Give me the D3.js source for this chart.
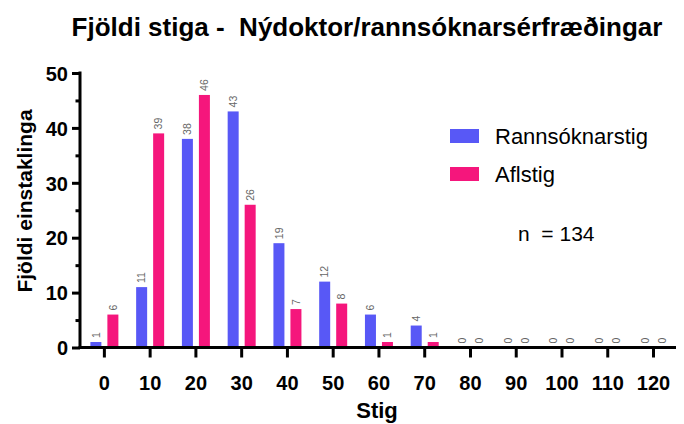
<!DOCTYPE html>
<html><head><meta charset="utf-8">
<script src="https://cdn.jsdelivr.net/npm/d3@7"></script>
<style>body{margin:0;background:#fff}svg{display:block}text{white-space:pre}</style>
</head><body>
<script>
const categories = [0,10,20,30,40,50,60,70,80,90,100,110,120];
const seriesNames = ["Rannsóknarstig","Aflstig"];
const rannsoknarstig = [1,11,38,43,19,12,6,4,0,0,0,0,0];
const aflstig = [6,39,46,26,7,8,1,1,0,0,0,0,0];
const yTicks = [0,10,20,30,40,50];
const yMinorTicks = [5,15,25,35,45];
const colors = ["#5858F6","#F5167C"];
const titleText = "Fjöldi stiga -  Nýdoktor/rannsóknarsérfræðingar";
const yTitle = "Fjöldi einstaklinga";
const xTitle = "Stig";
const nText = "n  = 134";

const W=684,H=424;
const svg=d3.select("body").append("svg").attr("width",W).attr("height",H);
const font="'Liberation Sans', Arial, sans-serif";

const x0=d3.scaleBand().domain(categories).range([81.5,676.4]).paddingInner(0.388).paddingOuter(0.194);
const x1=d3.scaleBand().domain(seriesNames).range([0,x0.bandwidth()]).paddingInner(0.353);
const y=d3.scaleLinear().domain([0,50]).range([347.5,73]);

const data=categories.map((c,i)=>({c,vals:[rannsoknarstig[i],aflstig[i]]}));

const g=svg.append("g");
const groups=g.selectAll("g.grp").data(data).join("g").attr("transform",d=>`translate(${x0(d.c)},0)`);
groups.selectAll("rect").data(d=>d.vals.map((v,j)=>({v,s:seriesNames[j],j}))).join("rect")
  .attr("x",d=>x1(d.s)).attr("width",x1.bandwidth())
  .attr("y",d=>y(d.v)).attr("height",d=>y(0)-y(d.v))
  .attr("fill",d=>colors[d.j]);
groups.selectAll("text").data(d=>d.vals.map((v,j)=>({v,s:seriesNames[j],j}))).join("text")
  .attr("transform",d=>`translate(${x1(d.s)+x1.bandwidth()/2+3.8},${y(d.v)-4}) rotate(-90)`)
  .attr("font-family",font).attr("font-size",10.5).attr("fill","#666")
  .text(d=>d.v);

// y axis
const ya=svg.append("g").attr("transform","translate(80,0)").call(d3.axisLeft(y).tickValues(yTicks).tickSize(8).tickFormat(d3.format("d")));
const yMinor=svg.append("g").attr("transform","translate(80,0)").call(d3.axisLeft(y).tickValues(yMinorTicks).tickSize(4.5).tickFormat(""));
[ya,yMinor].forEach(a=>{a.select(".domain").remove();a.selectAll("line").attr("stroke","#000").attr("stroke-width",3);});
ya.selectAll("text").attr("font-family",font).attr("font-weight","bold").attr("font-size",20).attr("fill","#000").attr("x",-12).attr("dy","0.36em");
svg.append("line").attr("x1",80).attr("x2",80).attr("y1",y(50)-1.5).attr("y2",y(0)+1.5).attr("stroke","#000").attr("stroke-width",3);

// x axis
const xa=svg.append("g").attr("transform",`translate(0,${y(0)})`).call(d3.axisBottom(x0).tickSize(10).tickSizeOuter(0));
xa.select(".domain").remove();
xa.selectAll("line").attr("stroke","#000").attr("stroke-width",3);
xa.selectAll("text").attr("font-family",font).attr("font-weight","bold").attr("font-size",20).attr("fill","#000").attr("y",28).attr("dy","0.71em");
svg.append("line").attr("x1",78.5).attr("x2",676).attr("y1",y(0)).attr("y2",y(0)).attr("stroke","#000").attr("stroke-width",3);

// titles
svg.append("text").attr("x",367).attr("y",36).attr("text-anchor","middle").attr("font-family",font).attr("font-weight","bold").attr("font-size",26).text(titleText);
svg.append("text").attr("transform","translate(32,201) rotate(-90)").attr("text-anchor","middle").attr("font-family",font).attr("font-weight","bold").attr("font-size",21).text(yTitle);
svg.append("text").attr("x",377).attr("y",418).attr("text-anchor","middle").attr("font-family",font).attr("font-weight","bold").attr("font-size",22).text(xTitle);

// legend
const leg=svg.append("g");
seriesNames.forEach((s,i)=>{
  leg.append("rect").attr("x",450).attr("y",129+i*38).attr("width",29).attr("height",14).attr("fill",colors[i]);
  leg.append("text").attr("x",495).attr("y",144+i*38).attr("font-family",font).attr("font-size",22).text(s);
});
svg.append("text").attr("x",518).attr("y",241).attr("font-family",font).attr("font-size",21).text(nText);
</script>
</body></html>
